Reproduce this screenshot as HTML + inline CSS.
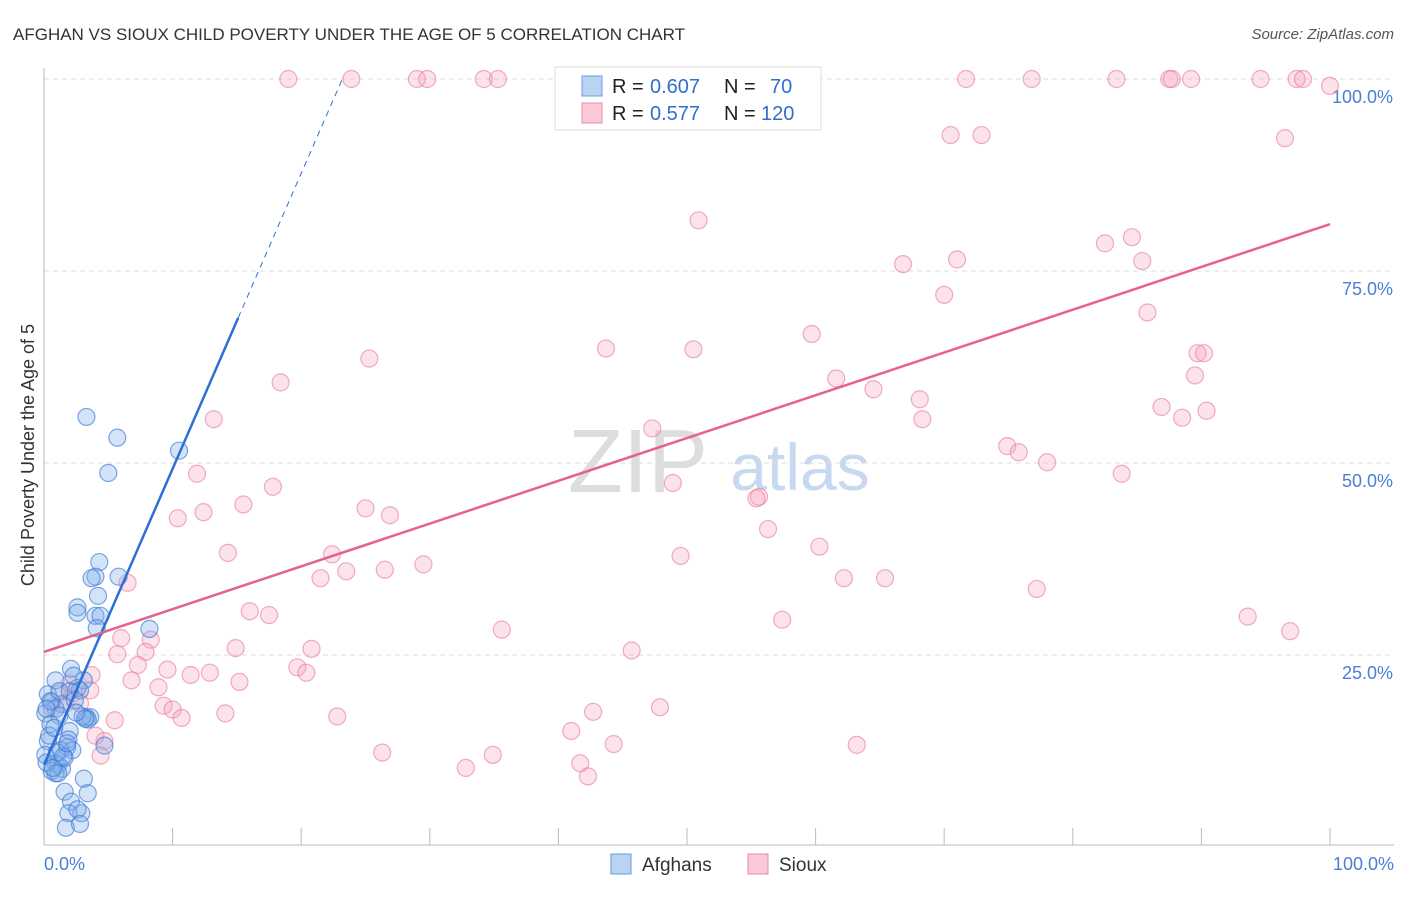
<!DOCTYPE html>
<html><head><meta charset="utf-8"><style>
body{margin:0;background:#fff;font-family:"Liberation Sans",sans-serif;}
svg text{font-family:"Liberation Sans",sans-serif;}
</style></head><body>
<svg id="chart" width="1406" height="892">
<text x="13" y="40" font-size="17" fill="#333">AFGHAN VS SIOUX CHILD POVERTY UNDER THE AGE OF 5 CORRELATION CHART</text>
<text x="1394" y="39" font-size="15" fill="#555" text-anchor="end" font-style="italic">Source: ZipAtlas.com</text>
<text x="638" y="492" font-size="90" fill="#ddd" text-anchor="middle" font-family="Liberation Serif">ZIP</text>
<text x="800" y="490" font-size="66" fill="#c8d8f0" text-anchor="middle">atlas</text>
<g id="grid"></g><g id="axes"></g><g id="pts"></g><g id="lines"></g>
<text transform="translate(34,455) rotate(-90)" font-size="18" fill="#333" text-anchor="middle">Child Poverty Under the Age of 5</text>
<g>
<rect x="555" y="67" width="266" height="63" fill="#fff" stroke="#ddd"/>
<rect x="582" y="76" width="20" height="20" fill="#b9d3f5" stroke="#6a9be0"/>
<text x="612" y="93" font-size="20" fill="#222">R = </text><text x="650" y="93" font-size="20" fill="#2f6fd0">0.607</text>
<text x="724" y="93" font-size="20" fill="#222">N = </text><text x="770" y="93" font-size="20" fill="#2f6fd0">70</text>
<rect x="582" y="103" width="20" height="20" fill="#fbc8d7" stroke="#e98aa8"/>
<text x="612" y="120" font-size="20" fill="#222">R = </text><text x="650" y="120" font-size="20" fill="#2f6fd0">0.577</text>
<text x="724" y="120" font-size="20" fill="#222">N = </text><text x="761" y="120" font-size="20" fill="#2f6fd0">120</text>
</g>
<g>
<rect x="611" y="854" width="20" height="20" fill="#b9d3f5" stroke="#6a9be0"/>
<text x="642" y="871" font-size="19" fill="#333">Afghans</text>
<rect x="748" y="854" width="20" height="20" fill="#fbc8d7" stroke="#e98aa8"/>
<text x="779" y="871" font-size="19" fill="#333">Sioux</text>
</g>
</svg>
<script>
const blueX=[3.3,5.7,5,10.5,4.3,4,3.7,5.8,4.2,2.6,2.6,4,4.4,4.1,8.2,2.1,0.9,3.1,2.6,2.8,0.3,0.6,1.4,0.9,0.1,3.3,3.6,3.4,1.2,2,0.5,1.9,1.8,2.2,1.3,4.7,0.3,0.1,0.9,1.1,0.6,1.4,0.9,3.1,1.6,3.4,2.1,2.9,1.9,2.6,1.7,2.8,0.5,1.2,2,0.2,1.1,1.6,0.4,1.0,2.4,3.0,0.2,1.5,0.8,2.3,3.2,0.7,1.8,2.5];
const blueY=[56,53.3,48.7,51.6,37.1,35.2,35,35.2,32.7,31.2,30.5,30.1,30.1,28.5,28.4,23.2,21.7,21.7,20.7,20.4,19.9,18.9,18.6,18,17.4,16.9,16.9,16.6,17.1,15.1,16,14,13,12.6,12.6,13.2,13.8,12,10.9,10.7,9.9,10.2,9.6,8.9,7.2,7,5.9,4.4,4.4,4.9,2.5,3,19,20.3,20.3,11,9.6,11.6,14.5,12.3,19.1,17,18,11.8,15.5,22.3,16.7,10.3,13.5,17.5];
const pinkX=[19.0,23.9,29,29.8,34.2,35.3,71.7,76.8,83.4,87.5,87.7,89.2,94.6,97.4,97.9,100,70.5,72.9,96.5,50.9,82.5,84.6,66.8,71,85.4,70,85.8,59.7,25.3,43.7,50.5,89.7,90.2,18.4,89.5,61.6,64.5,68.1,68.3,86.9,88.5,90.4,13.2,47.3,74.9,75.8,78,83.8,11.9,48.9,17.8,55.6,55.4,10.4,12.4,15.5,25,26.9,56.3,60.3,14.3,22.4,49.5,29.5,21.5,23.5,26.5,62.2,65.4,77.2,6.5,16,17.5,93.6,96.9,57.4,35.6,6,8.3,14.9,20.8,45.7,7.9,5.7,7.3,19.7,20.4,11.4,12.9,3.7,6.8,8.9,2.3,2.8,9.3,10,10.7,14.1,22.8,47.9,42.7,41,44.3,63.2,4.7,4.4,34.9,41.7,32.8,42.3,1.2,1.7,0.6,2,3.6,4,5.5,9.6,15.2,26.3];
const pinkY=[100,100,100,100,100,100,100,100,100,100,100,100,100,100,100,99.1,92.7,92.7,92.3,81.6,78.6,79.4,75.9,76.5,76.3,71.9,69.6,66.8,63.6,64.9,64.8,64.3,64.3,60.5,61.4,61,59.6,58.3,55.7,57.3,55.9,56.8,55.7,54.5,52.2,51.4,50.1,48.6,48.6,47.4,46.9,45.6,45.4,42.8,43.6,44.6,44.1,43.2,41.4,39.1,38.3,38.1,37.9,36.8,35,35.9,36.1,35,35,33.6,34.4,30.7,30.2,30,28.1,29.6,28.3,27.2,27,25.9,25.8,25.6,25.4,25.1,23.7,23.4,22.7,22.4,22.7,22.4,21.7,20.8,20.1,18.7,18.4,17.9,16.8,17.4,17,18.2,17.6,15.1,13.4,13.3,13.8,11.9,12,10.9,10.3,9.2,20,18.7,18.1,21.3,20.4,14.5,16.5,23.1,21.5,12.3];
const xTicks=[0,10,20,30,40,50,60,70,80,90,100];
const yTicks=[25,50,75,100];
const yLabels=["25.0%","50.0%","75.0%","100.0%"];
const blueFit=[[0,10.7],[15.1,68.9],[23.2,100]];
const pinkFit=[[0,25.4],[100,81.1]];
const X=v=>44+v*12.86, Y=v=>847-v*7.68;
const NS="http://www.w3.org/2000/svg";
function mk(p,t,a){const e=document.createElementNS(NS,t);for(const k in a)e.setAttribute(k,a[k]);document.getElementById(p).appendChild(e);return e;}
yTicks.forEach((v,i)=>{
 const l=mk('grid','line',{x1:44,x2:1394,y1:Y(v),y2:Y(v),stroke:'#ddd','stroke-dasharray':'5,4'});
 
 
 const t=mk('axes','text',{x:1393,y:Y(v)+24,'font-size':18,fill:'#4a7fd4','text-anchor':'end'});t.textContent=yLabels[i];
 
 
});
const ax=mk('axes','line',{x1:44,x2:1394,y1:845,y2:845,stroke:'#bbb'});


const ay=mk('axes','line',{x1:44,x2:44,y1:68,y2:845,stroke:'#bbb'});


xTicks.forEach(v=>{const l=mk('axes','line',{x1:X(v),x2:X(v),y1:828,y2:845,stroke:'#bbb'});
 
 });
let t0=mk('axes','text',{x:44,y:870,'font-size':18,fill:'#4a7fd4'});t0.textContent='0.0%';


let t1=mk('axes','text',{x:1394,y:870,'font-size':18,fill:'#4a7fd4','text-anchor':'end'});t1.textContent='100.0%';


pinkX.forEach((v,i)=>{const c=mk('pts','circle',{cx:X(v),cy:Y(pinkY[i]),r:8.5,fill:'rgba(246,160,188,0.3)',stroke:'rgba(232,120,155,0.6)','stroke-width':1.2});
 
 });
blueX.forEach((v,i)=>{const c=mk('pts','circle',{cx:X(v),cy:Y(blueY[i]),r:8.5,fill:'rgba(130,175,235,0.35)',stroke:'rgba(60,120,210,0.65)','stroke-width':1.2});
 
 });
let b1=mk('lines','line',{x1:X(blueFit[0][0]),y1:Y(blueFit[0][1]),x2:X(blueFit[1][0]),y2:Y(blueFit[1][1]),stroke:'#2d6fd6','stroke-width':2.5});


let b2=mk('lines','line',{x1:X(blueFit[1][0]),y1:Y(blueFit[1][1]),x2:X(blueFit[2][0]),y2:Y(blueFit[2][1]),stroke:'#2d6fd6','stroke-width':1,'stroke-dasharray':'6,5'});


let p1=mk('lines','line',{x1:X(pinkFit[0][0]),y1:Y(pinkFit[0][1]),x2:X(pinkFit[1][0]),y2:Y(pinkFit[1][1]),stroke:'#e4628e','stroke-width':2.5});


</script>
</body></html>
